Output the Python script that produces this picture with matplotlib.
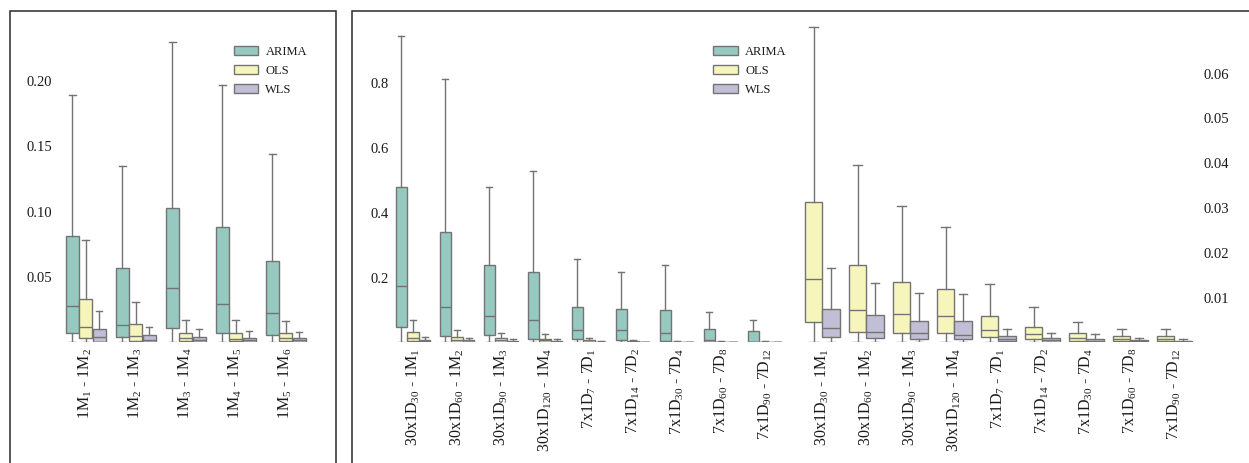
import matplotlib
matplotlib.use('Agg')
import matplotlib.pyplot as plt
from matplotlib.patches import Rectangle, Patch
from matplotlib.ticker import FormatStrFormatter
import colorsys

plt.rcParams['font.family'] = ['Liberation Serif', 'DejaVu Serif']
plt.rcParams['mathtext.fontset'] = 'custom'
plt.rcParams['mathtext.rm'] = 'Liberation Serif'
plt.rcParams['mathtext.default'] = 'regular'

# ---------------- data ----------------
series = ['ARIMA', 'OLS', 'WLS']

# each entry: [whisker_low, q1, median, q3, whisker_high]
month_labels = [r'1M$_1$ - 1M$_2$', r'1M$_2$ - 1M$_3$', r'1M$_3$ - 1M$_4$',
                r'1M$_4$ - 1M$_5$', r'1M$_5$ - 1M$_6$']
month_arima = [[0, 0.007, 0.028, 0.0815, 0.189],
               [0, 0.004, 0.0134, 0.0568, 0.1346],
               [0, 0.011, 0.0415, 0.1025, 0.2296],
               [0, 0.0075, 0.029, 0.088, 0.197],
               [0, 0.0057, 0.0228, 0.0626, 0.1438]]
month_ols = [[0, 0.003, 0.012, 0.033, 0.078],
             [0, 0.0014, 0.005, 0.014, 0.031],
             [0, 0.0008, 0.003, 0.0075, 0.017],
             [0, 0.0008, 0.0025, 0.0075, 0.017],
             [0, 0.0008, 0.003, 0.007, 0.016]]
month_wls = [[0, 0.0006, 0.004, 0.010, 0.024],
             [0, 0.0005, 0.002, 0.0055, 0.012],
             [0, 0.0004, 0.0015, 0.0045, 0.0103],
             [0, 0.0004, 0.0015, 0.0037, 0.0088],
             [0, 0.0004, 0.0015, 0.0032, 0.0078]]

day_labels = [r'30x1D$_{30}$ - 1M$_1$', r'30x1D$_{60}$ - 1M$_2$',
              r'30x1D$_{90}$ - 1M$_3$', r'30x1D$_{120}$ - 1M$_4$',
              r'7x1D$_7$ - 7D$_1$', r'7x1D$_{14}$ - 7D$_2$',
              r'7x1D$_{30}$ - 7D$_4$', r'7x1D$_{60}$ - 7D$_8$',
              r'7x1D$_{90}$ - 7D$_{12}$']
day_arima = [[0, 0.047, 0.174, 0.480, 0.945],
             [0, 0.020, 0.110, 0.340, 0.813],
             [0, 0.022, 0.081, 0.239, 0.480],
             [0, 0.012, 0.069, 0.218, 0.529],
             [0, 0.009, 0.038, 0.110, 0.256],
             [0, 0.007, 0.038, 0.102, 0.218],
             [0, 0.004, 0.030, 0.100, 0.240],
             [0, 0.001, 0.007, 0.041, 0.094],
             [0, 0.001, 0.002, 0.036, 0.069]]
day_ols = [[0, 0.0046, 0.0141, 0.0314, 0.0704],
           [0, 0.0023, 0.0072, 0.0173, 0.0396],
           [0, 0.0021, 0.0063, 0.0135, 0.0305],
           [0, 0.0022, 0.0059, 0.0119, 0.0257],
           [0, 0.0011, 0.0027, 0.0059, 0.0130],
           [0, 0.0007, 0.0019, 0.0035, 0.0078],
           [0, 0.0004, 0.0009, 0.0021, 0.0046],
           [0, 0.0003, 0.0007, 0.0014, 0.0030],
           [0, 0.0004, 0.0008, 0.0014, 0.0029]]
day_wls = [[0, 0.00125, 0.0033, 0.0074, 0.0165],
           [0, 0.0009, 0.0024, 0.0061, 0.0132],
           [0, 0.0007, 0.0021, 0.0048, 0.0110],
           [0, 0.0007, 0.0016, 0.0048, 0.0109],
           [0, 0.0003, 0.0007, 0.0015, 0.0029],
           [0, 0.0002, 0.0005, 0.0010, 0.0022],
           [0, 0.0001, 0.0004, 0.0008, 0.0018],
           [0, 0.0001, 0.0003, 0.0005, 0.0010],
           [0, 0.0001, 0.0002, 0.0004, 0.0008]]

month_ticks = [0.05, 0.10, 0.15, 0.20]
day_ticks = [0.2, 0.4, 0.6, 0.8]
day_zoom_ticks = [0.01, 0.02, 0.03, 0.04, 0.05, 0.06]

# ---------------- style ----------------
def desat(hexcol, prop=0.75):
    r, g, b = matplotlib.colors.to_rgb(hexcol)
    h, l, s = colorsys.rgb_to_hls(r, g, b)
    return colorsys.hls_to_rgb(h, l, s * prop)

base = {'ARIMA': '#8dd3c7', 'OLS': '#ffffb3', 'WLS': '#bebada'}
colors = {k: desat(v) for k, v in base.items()}
LINE = '#737373'
TXT = '#1a1a1a'

W, H = 1249, 463
fig = plt.figure(figsize=(W / 100, H / 100), dpi=100)
fig.patch.set_facecolor('white')

top_px, zero_px = 25, 342.4
def ax_rect(x0, x1):
    return [x0 / W, (H - zero_px) / H, (x1 - x0) / W, (zero_px - top_px) / H]

def draw_group(ax, data_by_series, names, ytop):
    n = len(names)
    width = 0.8 / n
    for j, name in enumerate(names):
        stats = []
        for vals in data_by_series[name]:
            lo, q1, med, q3, hi = vals
            stats.append(dict(whislo=lo, q1=q1, med=med, q3=q3, whishi=hi, fliers=[]))
        npos = len(stats)
        pos = [i - 0.4 + width * (j + 0.5) for i in range(npos)]
        ax.bxp(stats, positions=pos, widths=width * 0.98, capwidths=width * 0.49,
               showfliers=False, patch_artist=True, manage_ticks=False,
               boxprops=dict(facecolor=colors[name], edgecolor=LINE, linewidth=1.0),
               medianprops=dict(color=LINE, linewidth=1.0),
               whiskerprops=dict(color=LINE, linewidth=1.0),
               capprops=dict(color=LINE, linewidth=1.0))
    ax.set_ylim(0, ytop)
    for s in ax.spines.values():
        s.set_visible(False)
    ax.set_facecolor('none')

def add_legend(ax, xanchor):
    ax.legend(handles=[Patch(facecolor=colors[s], edgecolor=LINE, linewidth=1.0, label=s)
                       for s in series],
              loc='upper right', bbox_to_anchor=(xanchor, 0.97), frameon=False, fontsize=9,
              handlelength=1.95, handleheight=0.7, labelspacing=0.55, handletextpad=0.6,
              labelcolor=TXT)

# ---- left panel ----
ax1 = fig.add_axes(ax_rect(60.7, 310.7))
draw_group(ax1, {'ARIMA': month_arima, 'OLS': month_ols, 'WLS': month_wls},
           series, (zero_px - top_px) / 1308)
ax1.set_xlim(-0.5, len(month_labels) - 0.5)
ax1.set_xticks(range(len(month_labels)))
ax1.set_xticklabels(month_labels, rotation=90, fontsize=11.5, color=TXT)
ax1.set_yticks(month_ticks)
ax1.yaxis.set_major_formatter(FormatStrFormatter('%.2f'))
ax1.tick_params(axis='y', length=0, pad=6, labelsize=10.5, labelcolor=TXT)
ax1.tick_params(axis='x', length=0, pad=4)
add_legend(ax1, 1.03)

# ---- right panel, left part ----
ax2 = fig.add_axes(ax_rect(391, 787))
draw_group(ax2, {'ARIMA': day_arima, 'OLS': day_ols, 'WLS': day_wls},
           series, (zero_px - top_px) / 324)
ax2.set_xlim(-0.5, len(day_labels) - 0.5)
ax2.set_xticks(range(len(day_labels)))
ax2.set_xticklabels(day_labels, rotation=90, fontsize=11.5, color=TXT)
ax2.set_yticks(day_ticks)
ax2.yaxis.set_major_formatter(FormatStrFormatter('%.1f'))
ax2.tick_params(axis='y', length=0, pad=1.5, labelsize=10.5, labelcolor=TXT)
ax2.tick_params(axis='x', length=0, pad=4)
add_legend(ax2, 1.028)

# ---- right panel, right part (OLS / WLS zoom) ----
ax3 = fig.add_axes(ax_rect(800.3, 1196.3))
draw_group(ax3, {'OLS': day_ols, 'WLS': day_wls}, ['OLS', 'WLS'],
           (zero_px - top_px) / 4480)
ax3.set_xlim(-0.5, len(day_labels) - 0.5)
ax3.set_xticks(range(len(day_labels)))
ax3.set_xticklabels(day_labels, rotation=90, fontsize=11.5, color=TXT)
ax3.set_yticks(day_zoom_ticks)
ax3.yaxis.set_major_formatter(FormatStrFormatter('%.2f'))
ax3.yaxis.tick_right()
ax3.tick_params(axis='y', length=0, pad=5, labelsize=10.5, labelcolor=TXT)
ax3.tick_params(axis='x', length=0, pad=4)

# ---- panel frames ----
fig.add_artist(Rectangle((9.5 / W, -0.1), (336 - 9.5) / W, 1.1 - 11 / H,
                         transform=fig.transFigure, fill=False, edgecolor='#2a2a2a', linewidth=1.1))
fig.add_artist(Rectangle((352 / W, -0.1), (W + 20 - 352) / W, 1.1 - 11 / H,
                         transform=fig.transFigure, fill=False, edgecolor='#2a2a2a', linewidth=1.1))

fig.savefig('out.png', dpi=100, facecolor='white')
